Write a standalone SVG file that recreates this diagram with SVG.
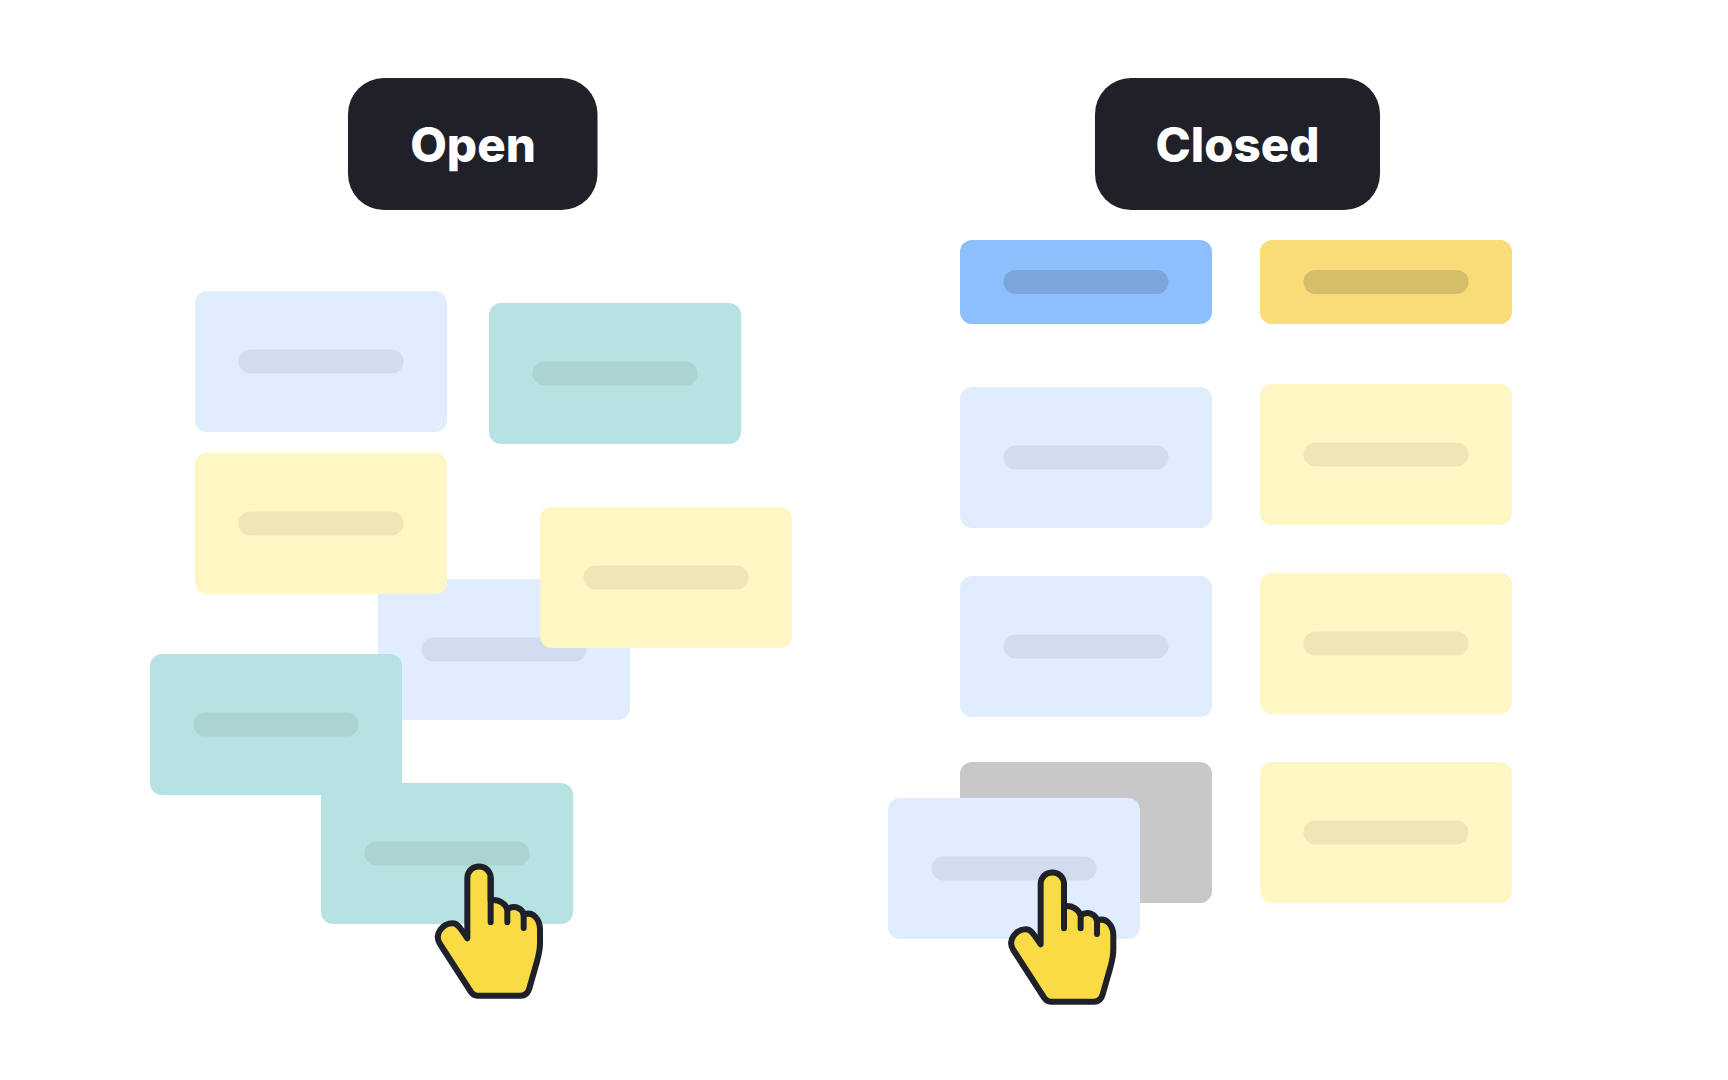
<svg xmlns="http://www.w3.org/2000/svg" width="1728" height="1080" viewBox="0 0 1728 1080">
<style>
.card{rx:12px;ry:12px}
.pill{rx:12px;ry:12px}
.lb{fill:#E0EDFF}.lbp{fill:#CFDDEE}
.tl{fill:#B6E3E1}.tlp{fill:#ABD3D2}
.yl{fill:#FEF7C3}.ylp{fill:#EDE6B5}
.btn{fill:#1F2028}
.lab{font-family:Inter,"Liberation Sans",sans-serif;font-weight:800;font-size:47.5px;fill:#fff;text-anchor:middle}
.hand{fill:#F9DC45;stroke:#1F2028;stroke-width:18;stroke-linecap:round;stroke-linejoin:round}
</style>
<defs>
<g id="hand-shape">
<path class="hand" d="M202 295V115C202 68 272 68 272 115V181C296 177 316 190 322 208C346 192 368 208 371 224C400 212 420 240 420 268V310C420 335 414 352 410 368L388 445C384 460 376 467 362 467H232C222 467 218 463 213 456L120 312C100 280 130 250 158 250C172 250 180 262 202 295Z"/>
<path class="hand" fill="none" d="M272 115V247M322 205V247M371 222V264"/>
</g>
</defs>
<rect width="1728" height="1080" fill="#fff"/>
<g id="open-label"><rect class="btn" x="348" y="78" width="249.500" height="132" rx="36"/><text class="lab" x="473" y="162">Open</text></g>
<g id="closed-label"><rect class="btn" x="1095" y="78" width="285" height="132" rx="36"/><text class="lab" x="1237.500" y="162">Closed</text></g>
<g id="open-blue-1"><rect class="card lb" x="195" y="291" width="252" height="141"/><rect class="pill lbp" x="238.500" y="349.500" width="165" height="24"/></g>
<g id="open-teal-1"><rect class="card tl" x="489" y="303" width="252" height="141"/><rect class="pill tlp" x="532.500" y="361.500" width="165" height="24"/></g>
<g id="open-blue-2"><rect class="card lb" x="378" y="579" width="252" height="141"/><rect class="pill lbp" x="421.500" y="637.500" width="165" height="24"/></g>
<g id="open-yellow-1"><rect class="card yl" x="195" y="453" width="252" height="141"/><rect class="pill ylp" x="238.500" y="511.500" width="165" height="24"/></g>
<g id="open-yellow-2"><rect class="card yl" x="540" y="507" width="252" height="141"/><rect class="pill ylp" x="583.500" y="565.500" width="165" height="24"/></g>
<g id="open-teal-3"><rect class="card tl" x="321" y="783" width="252" height="141"/><rect class="pill tlp" x="364.500" y="841.500" width="165" height="24"/></g>
<g id="open-teal-2"><rect class="card tl" x="150" y="654" width="252" height="141"/><rect class="pill tlp" x="193.500" y="712.500" width="165" height="24"/></g>
<g id="closed-header-blue"><rect class="card" fill="#8DBFFF" x="960" y="240" width="252" height="84"/><rect class="pill" fill="#7CA6DA" x="1003.500" y="270" width="165" height="24"/></g>
<g id="closed-header-amber"><rect class="card" fill="#F9DC78" x="1260" y="240" width="252" height="84"/><rect class="pill" fill="#D5BD69" x="1303.500" y="270" width="165" height="24"/></g>
<g id="closed-blue-1"><rect class="card lb" x="960" y="387" width="252" height="141"/><rect class="pill lbp" x="1003.500" y="445.500" width="165" height="24"/></g>
<g id="closed-blue-2"><rect class="card lb" x="960" y="576" width="252" height="141"/><rect class="pill lbp" x="1003.500" y="634.500" width="165" height="24"/></g>
<g id="closed-slot"><rect class="card" fill="#C8C8CA" x="960" y="762" width="252" height="141"/></g>
<g id="closed-yellow-1"><rect class="card yl" x="1260" y="384" width="252" height="141"/><rect class="pill ylp" x="1303.500" y="442.500" width="165" height="24"/></g>
<g id="closed-yellow-2"><rect class="card yl" x="1260" y="573" width="252" height="141"/><rect class="pill ylp" x="1303.500" y="631.500" width="165" height="24"/></g>
<g id="closed-yellow-3"><rect class="card yl" x="1260" y="762" width="252" height="141"/><rect class="pill ylp" x="1303.500" y="820.500" width="165" height="24"/></g>
<g id="closed-dragged"><rect class="card lb" x="888" y="798" width="252" height="141"/><rect class="pill lbp" x="931.500" y="856.500" width="165" height="24"/></g>
<g id="hand-open"><use href="#hand-shape" transform="translate(400 840) scale(.33333)"/></g>
<g id="hand-closed"><use href="#hand-shape" transform="translate(973.330 846) scale(.33333)"/></g>
<g id="connectors"/>
</svg>
